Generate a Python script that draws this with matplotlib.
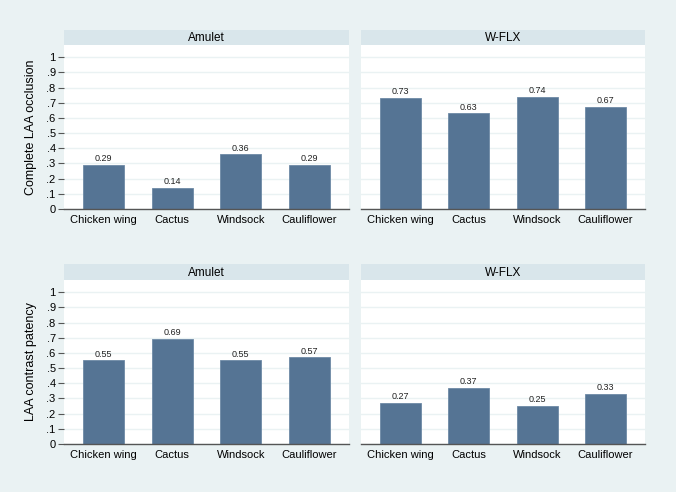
import numpy as np
import matplotlib.pyplot as plt

plt.rcParams['font.family'] = ['Liberation Sans', 'DejaVu Sans']

categories = ['Chicken wing', 'Cactus', 'Windsock', 'Cauliflower']
devices = ['Amulet', 'W-FLX']
row_labels = ['Complete LAA occlusion', 'LAA contrast patency']

occlusion_amulet = [0.29, 0.14, 0.36, 0.29]
occlusion_wflx = [0.73, 0.63, 0.74, 0.67]
patency_amulet = [0.55, 0.69, 0.55, 0.57]
patency_wflx = [0.27, 0.37, 0.25, 0.33]

yticks = np.arange(0, 1.01, 0.1)
ytick_labels = ['0', '.1', '.2', '.3', '.4', '.5', '.6', '.7', '.8', '.9', '1']

bg = '#eaf2f3'
strip = '#d9e6eb'
bar_color = '#557494'

W, H = 676, 492
fig = plt.figure(figsize=(W / 100, H / 100), dpi=100)
fig.patch.set_facecolor(bg)

def px_axes(x0, y0, x1, y1):
    # pixel box (top-left origin) -> figure axes
    return fig.add_axes([x0 / W, 1 - y1 / H, (x1 - x0) / W, (y1 - y0) / H])

panels = [
    [occlusion_amulet, occlusion_wflx],
    [patency_amulet, patency_wflx],
]
cols = [(64, 349), (361, 645)]
rows = [(30, 45, 209), (264, 280, 444)]

x = np.arange(len(categories))
for r, (strip_top, plot_top, plot_bot) in enumerate(rows):
    for c, (xl, xr) in enumerate(cols):
        vals = panels[r][c]
        ax = px_axes(xl, plot_top, xr, plot_bot)
        ax.set_facecolor('white')
        ax.set_xlim(-0.58, 3.58)
        ax.set_ylim(0, 1.08)
        ax.set_yticks(yticks)
        ax.grid(axis='y', color=bg, linewidth=1.0)
        ax.set_axisbelow(True)
        bars = ax.bar(x, vals, width=0.6, color=bar_color, edgecolor='#6e8aa6', linewidth=0.6)
        for b, v in zip(bars, vals):
            ax.text(b.get_x() + b.get_width() / 2, v + 0.012, f'{v:.2f}',
                    ha='center', va='bottom', fontsize=6.5, color='#222222')
        ax.set_xticks(x)
        ax.set_xticklabels(categories, fontsize=8)
        ax.tick_params(axis='x', length=0, pad=4)
        for s in ['top', 'right', 'left']:
            ax.spines[s].set_visible(False)
        ax.spines['bottom'].set_color('#555555')
        ax.spines['bottom'].set_linewidth(1.0)
        if c == 0:
            ax.set_yticklabels(ytick_labels, fontsize=8)
            ax.tick_params(axis='y', length=4, width=0.8, color='#555555', pad=2)
            ax.set_ylabel(row_labels[r], fontsize=9, labelpad=7)
        else:
            ax.set_yticklabels([])
            ax.tick_params(axis='y', length=0)

        hx = px_axes(xl, strip_top, xr, plot_top)
        hx.set_facecolor(strip)
        hx.set_xticks([])
        hx.set_yticks([])
        for s in hx.spines.values():
            s.set_visible(False)
        hx.text(0.5, 0.45, devices[c], ha='center', va='center', fontsize=8.5,
                transform=hx.transAxes)

fig.savefig('out.png', dpi=100, facecolor=bg)
